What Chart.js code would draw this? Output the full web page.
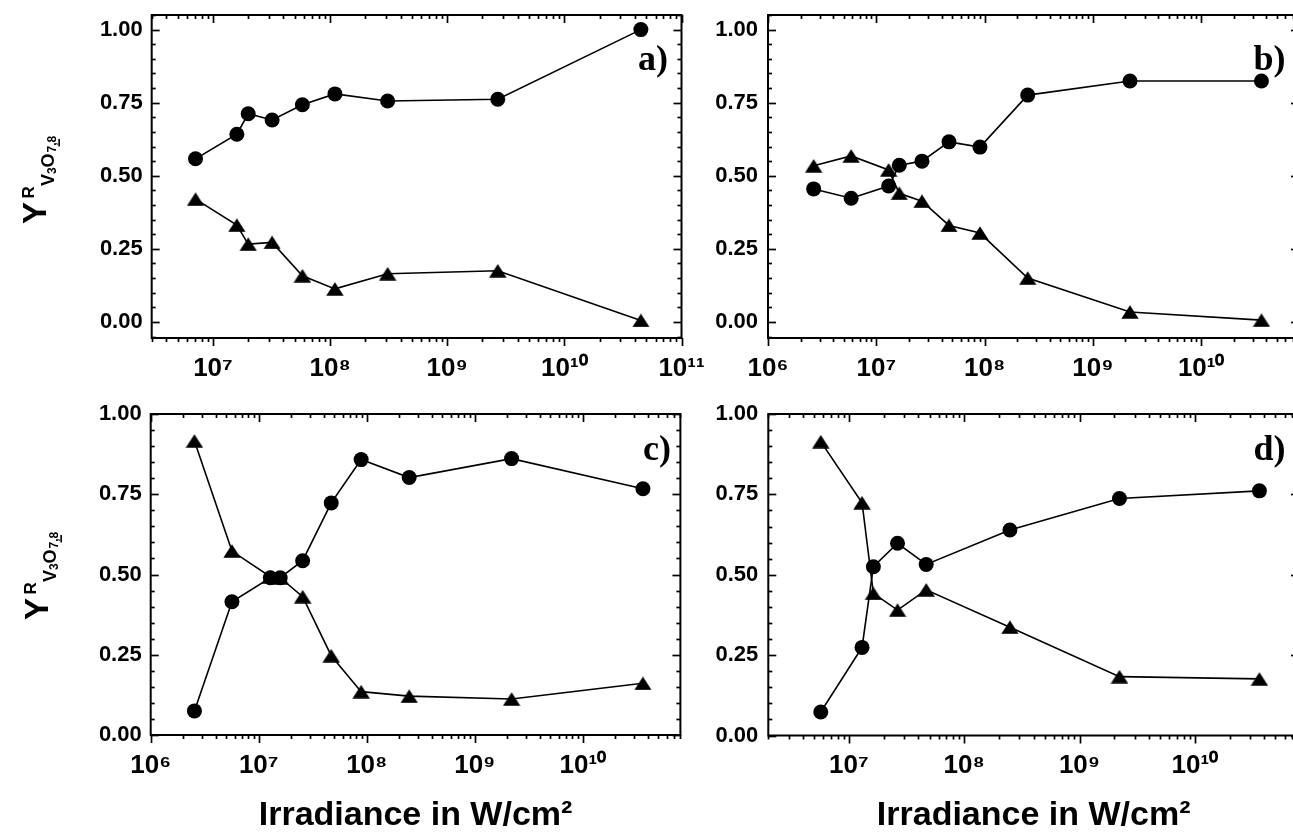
<!DOCTYPE html>
<html><head><meta charset="utf-8">
<script src="https://cdn.jsdelivr.net/npm/chart.js@4.4.1/dist/chart.umd.min.js"></script>
<style>
html,body{margin:0;padding:0;background:#fff;}
body{width:1293px;height:833px;overflow:hidden;position:relative;}
canvas{position:absolute;left:0;top:0;}
.yt{position:absolute;width:0;height:0;transform-origin:0 0;transform:rotate(-90deg);font-family:'Liberation Sans',Arial,sans-serif;font-weight:bold;color:#000;}
.yt span{position:absolute;line-height:1;white-space:nowrap;}
.pl{position:absolute;font-family:'Liberation Serif','Times New Roman',serif;font-weight:bold;font-size:36px;line-height:1;color:#000;transform:translateX(-100%);white-space:nowrap;}
</style></head><body>
<canvas id="ca" width="1320" height="833"></canvas>
<canvas id="cb" width="1320" height="833"></canvas>
<canvas id="cc" width="1320" height="833"></canvas>
<canvas id="cd" width="1320" height="833"></canvas>

<div class="yt" style="left:0px;top:230px">
  <span style="left:6px;top:17.5px;font-size:33px">Y</span>
  <span style="left:31.5px;top:19.5px;font-size:17px">R</span>
  <span style="left:44px;top:38.5px;font-size:18px">V</span>
  <span style="left:56px;top:46px;font-size:12px">3</span>
  <span style="left:62.5px;top:38.5px;font-size:18px">O</span>
  <span style="left:77.5px;top:46px;font-size:12px">7,8</span>
  <span style="left:83px;top:51px;font-size:15px">−</span>
</div>
<div class="yt" style="left:1.5px;top:626px">
  <span style="left:6px;top:17.5px;font-size:33px">Y</span>
  <span style="left:31.5px;top:19.5px;font-size:17px">R</span>
  <span style="left:44px;top:38.5px;font-size:18px">V</span>
  <span style="left:56px;top:46px;font-size:12px">3</span>
  <span style="left:62.5px;top:38.5px;font-size:18px">O</span>
  <span style="left:77.5px;top:46px;font-size:12px">7,8</span>
  <span style="left:83px;top:51px;font-size:15px">−</span>
</div>
<div class="pl" style="left:668px;top:39.8px">a)</div>
<div class="pl" style="left:1285.6px;top:39.8px">b)</div>
<div class="pl" style="left:671px;top:429.8px">c)</div>
<div class="pl" style="left:1285.6px;top:429.8px">d)</div>

<script>
// ---------- data ----------
const aX        = [7.1e6, 1.6e7, 2.0e7, 3.2e7, 5.8e7, 1.1e8, 3.1e8, 2.7e9, 4.5e10];
const aCircle   = [0.558, 0.642, 0.712, 0.691, 0.743, 0.780, 0.756, 0.762, 1.000];
const aTriangle = [0.420, 0.331, 0.266, 0.272, 0.158, 0.113, 0.165, 0.175, 0.005];

const bX        = [2.64e6, 5.86e6, 1.30e7, 1.63e7, 2.64e7, 4.69e7, 9.06e7, 2.50e8, 2.20e9, 3.60e10];
const bCircle   = [0.455, 0.423, 0.465, 0.536, 0.550, 0.616, 0.598, 0.776, 0.824, 0.824];
const bTriangle = [0.534, 0.568, 0.520, 0.440, 0.413, 0.330, 0.304, 0.150, 0.034, 0.006];

const cX        = [2.54e6, 5.65e6, 1.28e7, 1.58e7, 2.55e7, 4.69e7, 8.87e7, 2.47e8, 2.19e9, 3.60e10];
const cCircle   = [0.075, 0.415, 0.490, 0.490, 0.543, 0.723, 0.858, 0.802, 0.861, 0.767];
const cTriangle = [0.916, 0.573, 0.493, 0.490, 0.431, 0.247, 0.135, 0.121, 0.112, 0.161];

const dX        = [5.7e6, 1.30e7, 1.63e7, 2.64e7, 4.68e7, 2.49e8, 2.22e9, 3.63e10];
const dCircle   = [0.073, 0.274, 0.525, 0.598, 0.532, 0.639, 0.737, 0.761];
const dTriangle = [0.914, 0.724, 0.442, 0.390, 0.453, 0.337, 0.183, 0.176];

const aDecades = [1e7, 1e8, 1e9, 1e10, 1e11];
const bDecades = [1e6, 1e7, 1e8, 1e9, 1e10];
const cDecades = [1e6, 1e7, 1e8, 1e9, 1e10];
const dDecades = [1e7, 1e8, 1e9, 1e10];
const yTickValues = [0, 0.25, 0.5, 0.75, 1.0];
const xTitle = 'Irradiance in W/cm²';

// ---------- helpers ----------
const FONT = "'Liberation Sans', Arial, sans-serif";
const SUP = {'0':'⁰','1':'¹','2':'²','3':'³','4':'⁴','5':'⁵','6':'⁶','7':'⁷','8':'⁸','9':'⁹','-':'⁻'};
function pow10Label(v){
  const e = Math.round(Math.log10(v));
  return '10' + String(e).split('').map(c => SUP[c]).join('');
}

// isosceles triangle marker
const tri = document.createElement('canvas');
tri.width = 18; tri.height = 14;
(function(){
  const g = tri.getContext('2d');
  g.fillStyle = '#000';
  g.beginPath(); g.moveTo(0.3, 13.7); g.lineTo(9, 0.3); g.lineTo(17.7, 13.7); g.closePath(); g.fill();
})();

const frameTicks = {
  id: 'frameTicks',
  afterDraw(chart) {
    const {ctx, chartArea: {left, right, top, bottom}, scales: {x, y}} = chart;
    ctx.save();
    ctx.strokeStyle = '#000';
    ctx.lineWidth = 2;
    ctx.strokeRect(left, top, right - left, bottom - top);
    ctx.lineWidth = 1.7;
    const seg = (x1, y1, x2, y2) => { ctx.beginPath(); ctx.moveTo(x1, y1); ctx.lineTo(x2, y2); ctx.stroke(); };
    for (let k = Math.ceil(y.min / 0.05 - 1e-9); k * 0.05 <= y.max + 1e-9; k++) {
      const v = k * 0.05;
      const major = Math.abs(v / 0.25 - Math.round(v / 0.25)) < 1e-6;
      const py = Math.round(y.getPixelForValue(v)) + 0.5;
      const L = major ? 8 : 4;
      seg(left, py, left + L, py);
      seg(right, py, right - L, py);
    }
    const e0 = Math.floor(Math.log10(x.min)), e1 = Math.ceil(Math.log10(x.max));
    for (let e = e0; e <= e1; e++) {
      for (let m = 1; m <= 9; m++) {
        const v = m * Math.pow(10, e);
        if (v < x.min * 0.999 || v > x.max * 1.001) continue;
        const px = Math.round(x.getPixelForValue(v)) + 0.5;
        const L = m === 1 ? 8 : 4;
        seg(px, bottom, px, bottom + L);
        seg(px, top, px, top + L);
      }
    }
    ctx.restore();
  }
};

function makeChart(id, xs, circ, trian, cfg) {
  return new Chart(document.getElementById(id), {
    type: 'line',
    data: {
      datasets: [
        { data: xs.map((v, i) => ({x: v, y: circ[i]})),
          borderColor: '#000', borderWidth: 1.6, tension: 0, clip: false,
          pointStyle: 'circle', pointRadius: 7.5, pointBorderWidth: 0,
          pointBackgroundColor: '#000', pointBorderColor: '#000' },
        { data: xs.map((v, i) => ({x: v, y: trian[i]})),
          borderColor: '#000', borderWidth: 1.6, tension: 0, clip: false,
          pointStyle: tri, pointRadius: 8,
          pointBackgroundColor: '#000', pointBorderColor: '#000' }
      ]
    },
    options: {
      responsive: false, animation: false, devicePixelRatio: 1,
      layout: { padding: cfg.pad },
      plugins: { legend: { display: false }, tooltip: { enabled: false } },
      scales: {
        x: {
          type: 'logarithmic', min: cfg.xmin, max: cfg.xmax,
          grid: { display: false, drawTicks: false }, border: { display: false },
          ticks: { font: { family: FONT, size: 26, weight: 'bold' }, color: '#000', padding: 15,
                   maxRotation: 0, minRotation: 0, autoSkip: false, callback: v => pow10Label(v) },
          afterBuildTicks: s => { s.ticks = cfg.decades.map(v => ({value: v})); },
          afterFit: s => { s.height = cfg.xh; s.paddingLeft = 0; s.paddingRight = 0; },
          title: cfg.title ? { display: true, text: xTitle, color: '#000',
                   font: { family: FONT, size: 34, weight: 'bold', lineHeight: 1 },
                   padding: { top: 0, bottom: 0 } } : { display: false }
        },
        y: {
          type: 'linear', min: cfg.ymin, max: cfg.ymax,
          grid: { display: false, drawTicks: false }, border: { display: false },
          ticks: { font: { family: FONT, size: 22, weight: 'bold' }, color: '#000', padding: cfg.ypad,
                   callback: v => Number(v).toFixed(2) },
          afterBuildTicks: s => { s.ticks = yTickValues.map(v => ({value: v})); },
          afterFit: s => { s.width = cfg.yw; s.paddingTop = 0; s.paddingBottom = 0; }
        }
      }
    },
    plugins: [frameTicks]
  });
}

const W = 1320, H = 833;
makeChart('ca', aX, aCircle, aTriangle, {
  xmin: 3e6, xmax: 1e11, ymin: -0.055, ymax: 1.05, decades: aDecades,
  pad: { left: 0, top: 15, right: W - 681.5, bottom: H - 394 },
  yw: 151.7, xh: 56, ypad: 9, title: false });
makeChart('cb', bX, bCircle, bTriangle, {
  xmin: 1e6, xmax: 8e10, ymin: -0.055, ymax: 1.05, decades: bDecades,
  pad: { left: 700, top: 15, right: W - 1299, bottom: H - 394 },
  yw: 68, xh: 56, ypad: 10, title: false });
makeChart('cc', cX, cCircle, cTriangle, {
  xmin: 1e6, xmax: 8e10, ymin: 0, ymax: 1, decades: cDecades,
  pad: { left: 0, top: 414, right: W - 680.4, bottom: 0 },
  yw: 150.7, xh: H - 735, ypad: 9, title: true });
makeChart('cd', dX, dCircle, dTriangle, {
  xmin: 2e6, xmax: 8e10, ymin: 0, ymax: 1, decades: dDecades,
  pad: { left: 700, top: 414, right: W - 1299, bottom: 0 },
  yw: 68.3, xh: H - 735.5, ypad: 10, title: true });
</script>
</body></html>
